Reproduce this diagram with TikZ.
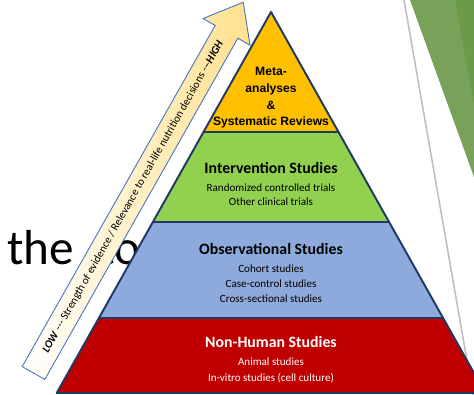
\documentclass[tikz,border=0pt]{standalone}
\usepackage{fontspec}
\setmainfont{Carlito}
\newfontfamily\arialfont{Liberation Sans}
\usepackage{xcolor}
\definecolor{apexorange}{HTML}{FFC000}
\definecolor{intgreen}{HTML}{92D050}
\definecolor{obsblue}{HTML}{8EA9DB}
\definecolor{nonred}{HTML}{C00000}
\definecolor{edgenavy}{HTML}{1F3864}
\definecolor{arrowyellow}{HTML}{FFE08C}
\definecolor{arrowblue}{HTML}{4472C4}
\definecolor{decolight}{HTML}{78A25A}
\definecolor{decodark}{HTML}{6C9A48}

\begin{document}
\begin{tikzpicture}[x=0.02cm,y=-0.02cm,
  layer/.style={draw=edgenavy,line width=1.1pt,line join=round},
  title/.style={font=\bfseries\fontsize{9}{10}\selectfont,anchor=base,inner sep=0pt},
  item/.style={font=\fontsize{6.3}{7}\selectfont,anchor=base,inner sep=0pt},
  meta/.style={font=\arialfont\bfseries\fontsize{6.9}{8}\selectfont,anchor=base,inner sep=0pt},
  slidetext/.style={font=\fontsize{28}{32}\selectfont,inner sep=0pt}]
\useasboundingbox (0,0) rectangle (474,395);
\clip (0,0) rectangle (474,395);

% leftovers of the slide behind the pyramid
\node[slidetext,anchor=base west] (the) at (7,265) {the};
\node[slidetext,anchor=base east] (to) at (141,265) {to};
\draw[gray!50,line width=0.9pt] (404,0) -- (473,395);
\fill[decolight] (410,0) -- (474,0) -- (474,177) -- cycle;
\fill[decodark] (455,0) -- (474,0) -- (474,105) -- cycle;

% arrow LOW -> HIGH
\begin{scope}[shift={(33.5,373)},rotate=60.5]
\shade[left color=white,right color=arrowyellow,draw=arrowblue,line width=0.5pt]
  (0,-13) -- (392,-13) -- (392,-27) -- (426,0) -- (392,27) -- (392,13) -- (0,13) -- cycle;
\node[item,anchor=center,rotate=60.5] (scale) at (202.5,0)
  {\textbf{\textit{LOW}} -{}-{}- Strength of evidence / Relevance to real-life nutrition decisions -{}-{}-\textbf{\textit{HIGH}}};
\end{scope}

% pyramid
\filldraw[layer,fill=apexorange] (271,12) -- (338.5,132) -- (203.5,132) -- cycle;
\filldraw[layer,fill=intgreen] (203.5,132) -- (338.5,132) -- (389.1,222) -- (152.9,222) -- cycle;
\filldraw[layer,fill=obsblue] (152.9,222) -- (389.1,222) -- (443.1,318) -- (98.9,318) -- cycle;
\filldraw[layer,fill=nonred] (98.9,318) -- (443.1,318) -- (485.3,393) -- (56.7,393) -- cycle;

\node[meta] (meta1) at (271,76) {Meta-};
\node[meta] (meta2) at (271,93) {analyses};
\node[meta] (meta3) at (271,110) {\&};
\node[meta] (meta4) at (271,126) {Systematic Reviews};

\node[title] (int) at (271,174) {Intervention Studies};
\node[item] (int1) at (271,192) {Randomized controlled trials};
\node[item] (int2) at (271,206) {Other clinical trials};

\node[title] (obs) at (271,255) {Observational Studies};
\node[item] (obs1) at (271,272.5) {Cohort studies};
\node[item] (obs2) at (271,287.5) {Case-control studies};
\node[item] (obs3) at (271,302.5) {Cross-sectional studies};

\node[title,white] (non) at (271,348) {Non-Human Studies};
\node[item,white] (non1) at (271,365.5) {Animal studies};
\node[item,white] (non2) at (271,381) {In-vitro studies (cell culture)};
\end{tikzpicture}
\end{document}
